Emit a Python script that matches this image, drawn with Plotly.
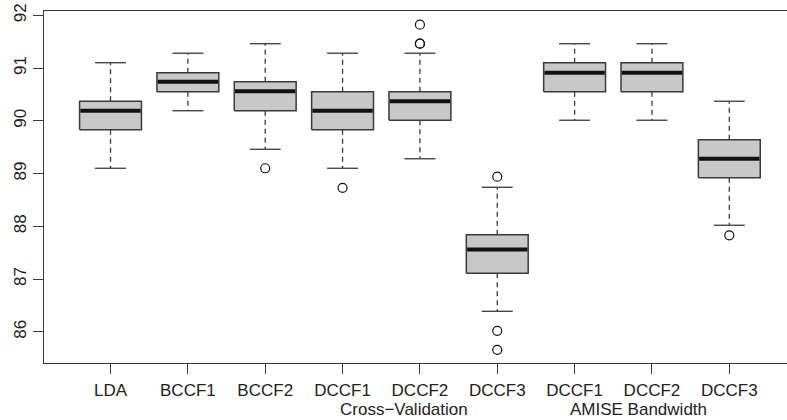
import plotly.graph_objects as go

labels = ["LDA", "BCCF1", "BCCF2", "DCCF1", "DCCF2", "DCCF3", "DCCF1", "DCCF2", "DCCF3"]
lower_whisker = [89.10, 90.19, 89.46, 89.10, 89.28, 86.39, 90.01, 90.01, 88.02]
q1 = [89.83, 90.55, 90.19, 89.83, 90.01, 87.11, 90.55, 90.55, 88.92]
median = [90.19, 90.74, 90.56, 90.19, 90.37, 87.56, 90.91, 90.91, 89.28]
q3 = [90.37, 90.91, 90.74, 90.55, 90.55, 87.84, 91.10, 91.10, 89.64]
upper_whisker = [91.10, 91.28, 91.46, 91.28, 91.28, 88.74, 91.46, 91.46, 90.37]
outliers = [[], [], [89.10], [88.73], [91.46, 91.46, 91.82], [88.94, 86.02, 85.66], [], [], [87.83]]
group_labels = ["Cross\u2212Validation", "AMISE Bandwidth"]
group_label_pos = [4.8, 7.82]

FONT = "Liberation Sans, Arial, Helvetica, sans-serif"
FS = 17
LINE = "#3a3a3a"
FILL = "#c8c8c8"
HW = 0.4
CAP = 0.2

fig = go.Figure()
for i in range(len(labels)):
    p = i + 1
    for a, b in ((q3[i], upper_whisker[i]), (q1[i], lower_whisker[i])):
        fig.add_trace(go.Scatter(x=[p, p], y=[a, b], mode="lines",
                                 line=dict(color=LINE, width=1.3, dash="5px,4px"),
                                 showlegend=False, hoverinfo="skip"))
    for v in (upper_whisker[i], lower_whisker[i]):
        fig.add_trace(go.Scatter(x=[p - CAP, p + CAP], y=[v, v], mode="lines",
                                 line=dict(color=LINE, width=1.3),
                                 showlegend=False, hoverinfo="skip"))
    fig.add_trace(go.Scatter(x=[p - HW, p + HW, p + HW, p - HW, p - HW],
                             y=[q1[i], q1[i], q3[i], q3[i], q1[i]],
                             mode="lines", fill="toself", fillcolor=FILL,
                             line=dict(color=LINE, width=1.5),
                             showlegend=False, hoverinfo="skip"))
    fig.add_trace(go.Scatter(x=[p - HW + 0.01, p + HW - 0.01], y=[median[i], median[i]], mode="lines",
                             line=dict(color="#111111", width=4),
                             showlegend=False, hoverinfo="skip"))
    if outliers[i]:
        fig.add_trace(go.Scatter(x=[p] * len(outliers[i]), y=outliers[i], mode="markers",
                                 marker=dict(symbol="circle-open", size=9, color="#111111",
                                             line=dict(width=1.2)),
                                 showlegend=False, hoverinfo="skip"))

for txt, pos in zip(group_labels, group_label_pos):
    fig.add_annotation(x=pos, xref="x", y=-0.132, yref="paper", text=txt, showarrow=False,
                       yanchor="middle", xanchor="center",
                       font=dict(family=FONT, size=FS, color="#222222"))

fig.update_layout(
    width=787, height=420,
    margin=dict(l=44, r=0, t=11, b=57),
    plot_bgcolor="white", paper_bgcolor="white",
    font=dict(family=FONT, size=FS, color="#222222"),
    xaxis=dict(range=[0.14, 9.746], tickvals=list(range(1, len(labels) + 1)), ticktext=labels,
               automargin=False,
               showgrid=False, zeroline=False, showline=True, linecolor=LINE, linewidth=1.3,
               mirror=True, ticks="outside", ticklen=10, tickcolor=LINE, tickwidth=1.3,
               ticklabelstandoff=1,
               tickfont=dict(family=FONT, size=FS, color="#222222")),
    yaxis=dict(range=[85.41, 92.08], tickvals=[86, 87, 88, 89, 90, 91, 92],
               automargin=False,
               showgrid=False, zeroline=False, showline=True, linecolor=LINE, linewidth=1.3,
               ticks="outside", ticklen=10, tickcolor=LINE, tickwidth=1.3, tickangle=-90,
               ticklabelstandoff=0,
               tickfont=dict(family=FONT, size=FS, color="#222222")),
)

fig.write_html("out.html", config={"displayModeBar": False},
               post_script="document.body.style.margin='0';document.body.style.overflow='hidden';")
